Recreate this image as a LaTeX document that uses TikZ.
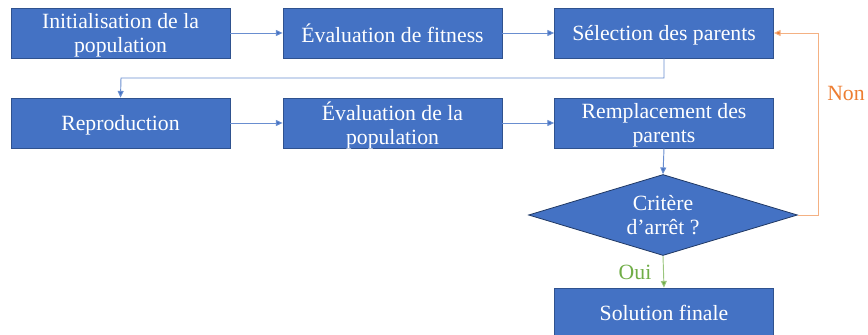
\documentclass[tikz,border=0pt]{standalone}
\usepackage{fontspec}
\setmainfont{Liberation Serif}
\usetikzlibrary{shapes.geometric,arrows.meta}
\definecolor{boxblue}{HTML}{4472C4}
\definecolor{boxedge}{HTML}{2F528F}
\definecolor{nonorange}{HTML}{ED7D31}
\definecolor{ouigreen}{HTML}{70AD47}
\begin{document}
\begin{tikzpicture}[x=0.75pt,y=-0.75pt,
  stepbox/.style={draw=boxedge,fill=boxblue,line width=0.6pt,minimum width=219*0.75pt,minimum height=50*0.75pt,inner sep=0pt,text depth=0pt,text=white,align=center,font=\fontsize{16.3pt}{18pt}\selectfont},
  decision/.style={diamond,draw=boxedge!70!black,fill=boxblue,line width=0.6pt,aspect=3.3,inner sep=0pt,minimum width=269*0.75pt,minimum height=81*0.75pt,text depth=0pt,text=white,align=center,font=\fontsize{16.3pt}{18pt}\selectfont},
  conn/.style={draw=boxblue!80,line width=0.7pt,-{Triangle[length=5pt,width=4.5pt,fill=boxblue]}},
  lbl/.style={font=\fontsize{16.3pt}{18pt}\selectfont}]
\useasboundingbox (0,0) rectangle (868,335);
\node[stepbox] (init) at (120.5,33) {Initialisation de la\\population};
\node[stepbox] (fit) at (392.5,33) {Évaluation de fitness};
\node[stepbox] (sel) at (664,33) {Sélection des parents};
\node[stepbox] (rep) at (120.5,123) {Reproduction};
\node[stepbox] (evp) at (392.5,123) {Évaluation de la\\population};
\node[stepbox] (rem) at (664,123) {Remplacement des\\parents};
\node[decision] (crit) at (663,215) {Critère\\d{\char39}arrêt ?};
\node[stepbox] (sol) at (664,313) {Solution finale};
\coordinate (c1) at (664,78);
\coordinate (c2) at (121,78);
\coordinate (c3) at (818,215);
\coordinate (c4) at (818,33);
\draw[conn] (init) -- (fit);
\draw[conn] (fit) -- (sel);
\draw[conn] (sel.south) -- (c1) -- (c2) -- (rep.north);
\draw[conn] (rep) -- (evp);
\draw[conn] (evp) -- (rem);
\draw[conn] (rem.south) -- (crit.north);
\draw[draw=nonorange!60,line width=0.7pt,-{Triangle[length=5pt,width=4.5pt,fill=nonorange]}] (crit.east) -- (c3) -- (c4) -- (sel.east);
\draw[draw=ouigreen!70,line width=0.7pt,-{Triangle[length=5pt,width=4.5pt,fill=ouigreen]}] (crit.south) -- (sol.north);
\node[lbl,text=nonorange] (non) at (846,93) {Non};
\node[lbl,text=ouigreen] (oui) at (635,272) {Oui};
\end{tikzpicture}
\end{document}
